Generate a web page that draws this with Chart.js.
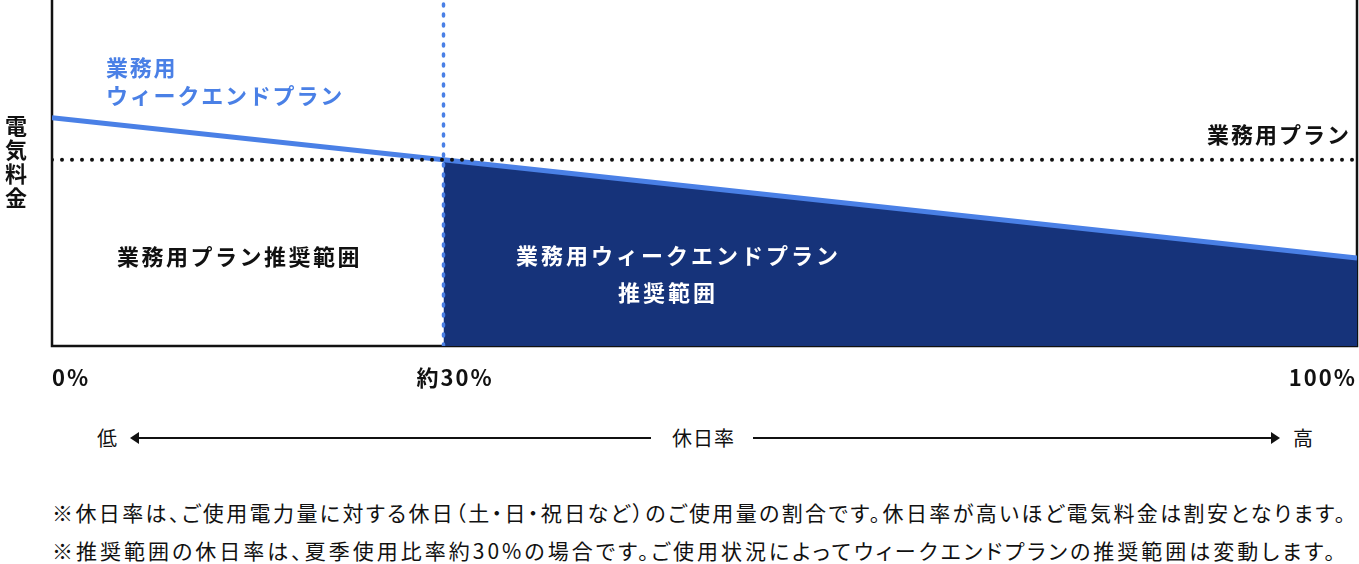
<!DOCTYPE html>
<html lang="ja">
<head>
<meta charset="utf-8">
<title>休日率と電気料金</title>
<script src="https://cdn.jsdelivr.net/npm/chart.js@4.4.1/dist/chart.umd.min.js"></script>
<style>
  html, body { margin: 0; padding: 0; background: #fff; }
  body { width: 1359px; height: 564px; position: relative; overflow: hidden;
         font-family: "Noto Sans CJK JP", "Noto Sans", sans-serif; color: #111; }
  #chartBox { position: absolute; left: 0; top: 0; width: 1359px; height: 400px; }
  .row { position: absolute; top: 426px; height: 24px; line-height: 24px; font-size: 20px; }
  .line { position: absolute; top: 437px; height: 2px; background: #111; }
  .head { position: absolute; top: 432px; width: 0; height: 0;
          border-top: 6px solid transparent; border-bottom: 6px solid transparent; }
  .note { position: absolute; left: 52px; font-size: 21px; line-height: 26px;
          font-feature-settings: "palt"; white-space: nowrap; }
</style>
</head>
<body>
<div id="chartBox"><canvas id="chart"></canvas></div>

<span class="row" style="left:97px">低</span>
<div class="head" style="left:130px;border-right:9px solid #111"></div>
<div class="line" style="left:136px;width:515px"></div>
<span class="row" style="left:672px;letter-spacing:1px">休日率</span>
<div class="line" style="left:753px;width:520px"></div>
<div class="head" style="left:1271px;border-left:9px solid #111"></div>
<span class="row" style="left:1293px">高</span>

<div class="note" style="top:499px;letter-spacing:2.4px">※休日率は、ご使用電力量に対する休日（土・日・祝日など）のご使用量の割合です。休日率が高いほど電気料金は割安となります。</div>
<div class="note" style="top:537px;letter-spacing:3px">※推奨範囲の休日率は、夏季使用比率約30%の場合です。ご使用状況によってウィークエンドプランの推奨範囲は変動します。</div>

<script>
// 休日率 (%) と電気料金 (相対値)
const rates = [0, 30, 100];
const weekendCost = [66, 53.8, 25.4];      // 業務用ウィークエンドプラン
const businessRates = [0, 100];
const businessCost = [53.8, 53.8];         // 業務用プラン
const threshold = 30;                      // 約30%
const tickValues = [0, 30, 100];
const tickLabels = ['0%', '約30%', '100%'];

const NAVY = '#16337a';
const BLUE = '#4a80e6';
const FONT = '"Noto Sans CJK JP", "Noto Sans", sans-serif';

const weekendLine = rates.map((r, i) => ({ x: r, y: weekendCost[i] }));
const recommended = weekendLine.filter(p => p.x >= threshold);
const businessLine = businessRates.map((r, i) => ({ x: r, y: businessCost[i] }));
const thresholdLine = [{ x: threshold, y: 0 }, { x: threshold, y: 100 }];

function txt(ctx, s, x, y, font, color, align, spacing) {
  ctx.save();
  ctx.font = font;
  ctx.fillStyle = color;
  ctx.textBaseline = 'middle';
  ctx.letterSpacing = (spacing || 0) + 'px';
  ctx.textAlign = 'left';
  if (align === 'right') {
    const w = ctx.measureText(s).width - (spacing || 0);
    ctx.fillText(s, x - w, y);
  } else {
    ctx.fillText(s, x, y);
  }
  ctx.restore();
}

const labelsPlugin = {
  id: 'labels',
  beforeDatasetsDraw(chart) {
    // frame: left, bottom, right
    const { ctx, chartArea: a } = chart;
    ctx.save();
    ctx.strokeStyle = '#111';
    ctx.lineWidth = 2.5;
    ctx.beginPath();
    ctx.moveTo(a.left, a.top);
    ctx.lineTo(a.left, a.bottom);
    ctx.lineTo(a.right, a.bottom);
    ctx.lineTo(a.right, a.top);
    ctx.stroke();
    ctx.restore();
  },
  afterDraw(chart) {
    const { ctx, chartArea: a } = chart;
    const xs = chart.scales.x;
    const bold = 'bold 22px ' + FONT;

    // y axis title, stacked vertically
    '電気料金'.split('').forEach((c, i) => {
      txt(ctx, c, 5, 126 + i * 24, bold, '#111', 'left', 0);
    });

    // x tick labels
    const tickFont = 'bold 22px ' + FONT;
    tickValues.forEach((v, i) => {
      const px = xs.getPixelForValue(v);
      if (i === 0) txt(ctx, tickLabels[i], px, 378, tickFont, '#111', 'left', 2);
      else if (i === tickValues.length - 1) txt(ctx, tickLabels[i], px - 2, 378, tickFont, '#111', 'right', 2);
      else txt(ctx, tickLabels[i], px - 27, 378, tickFont, '#111', 'left', 2);
    });

    txt(ctx, '業務用', 106, 68, bold, BLUE, 'left', 1.8);
    txt(ctx, 'ウィークエンドプラン', 106, 96, bold, BLUE, 'left', 1.8);
    txt(ctx, '業務用プラン', a.right - 8, 135, bold, '#111', 'right', 2);
    txt(ctx, '業務用プラン推奨範囲', 117, 257, bold, '#111', 'left', 2.5);
    txt(ctx, '業務用ウィークエンドプラン', 516, 256, bold, '#fff', 'left', 3);
    txt(ctx, '推奨範囲', 618, 293, bold, '#fff', 'left', 3);
  }
};

new Chart(document.getElementById('chart'), {
  type: 'line',
  data: {
    datasets: [
      { data: recommended, fill: 'origin', backgroundColor: NAVY, borderWidth: 0, pointRadius: 0, order: 4 },
      { data: thresholdLine, borderColor: BLUE, borderWidth: 3.5, borderDash: [2, 8], borderCapStyle: 'round', pointRadius: 0, fill: false, order: 3 },
      { data: weekendLine, borderColor: BLUE, borderWidth: 5, pointRadius: 0, fill: false, order: 2 },
      { data: businessLine, borderColor: '#111', borderWidth: 4, borderDash: [0, 10], borderCapStyle: 'round', pointRadius: 0, fill: false, order: 1 }
    ]
  },
  options: {
    responsive: true,
    maintainAspectRatio: false,
    animation: false,
    layout: { padding: { left: 52, right: 2, top: 0, bottom: 54 } },
    scales: {
      x: { type: 'linear', min: 0, max: 100, display: false },
      y: { type: 'linear', min: 0, max: 100, display: false }
    },
    plugins: { legend: { display: false }, tooltip: { enabled: false } }
  },
  plugins: [labelsPlugin]
});
</script>
</body>
</html>
